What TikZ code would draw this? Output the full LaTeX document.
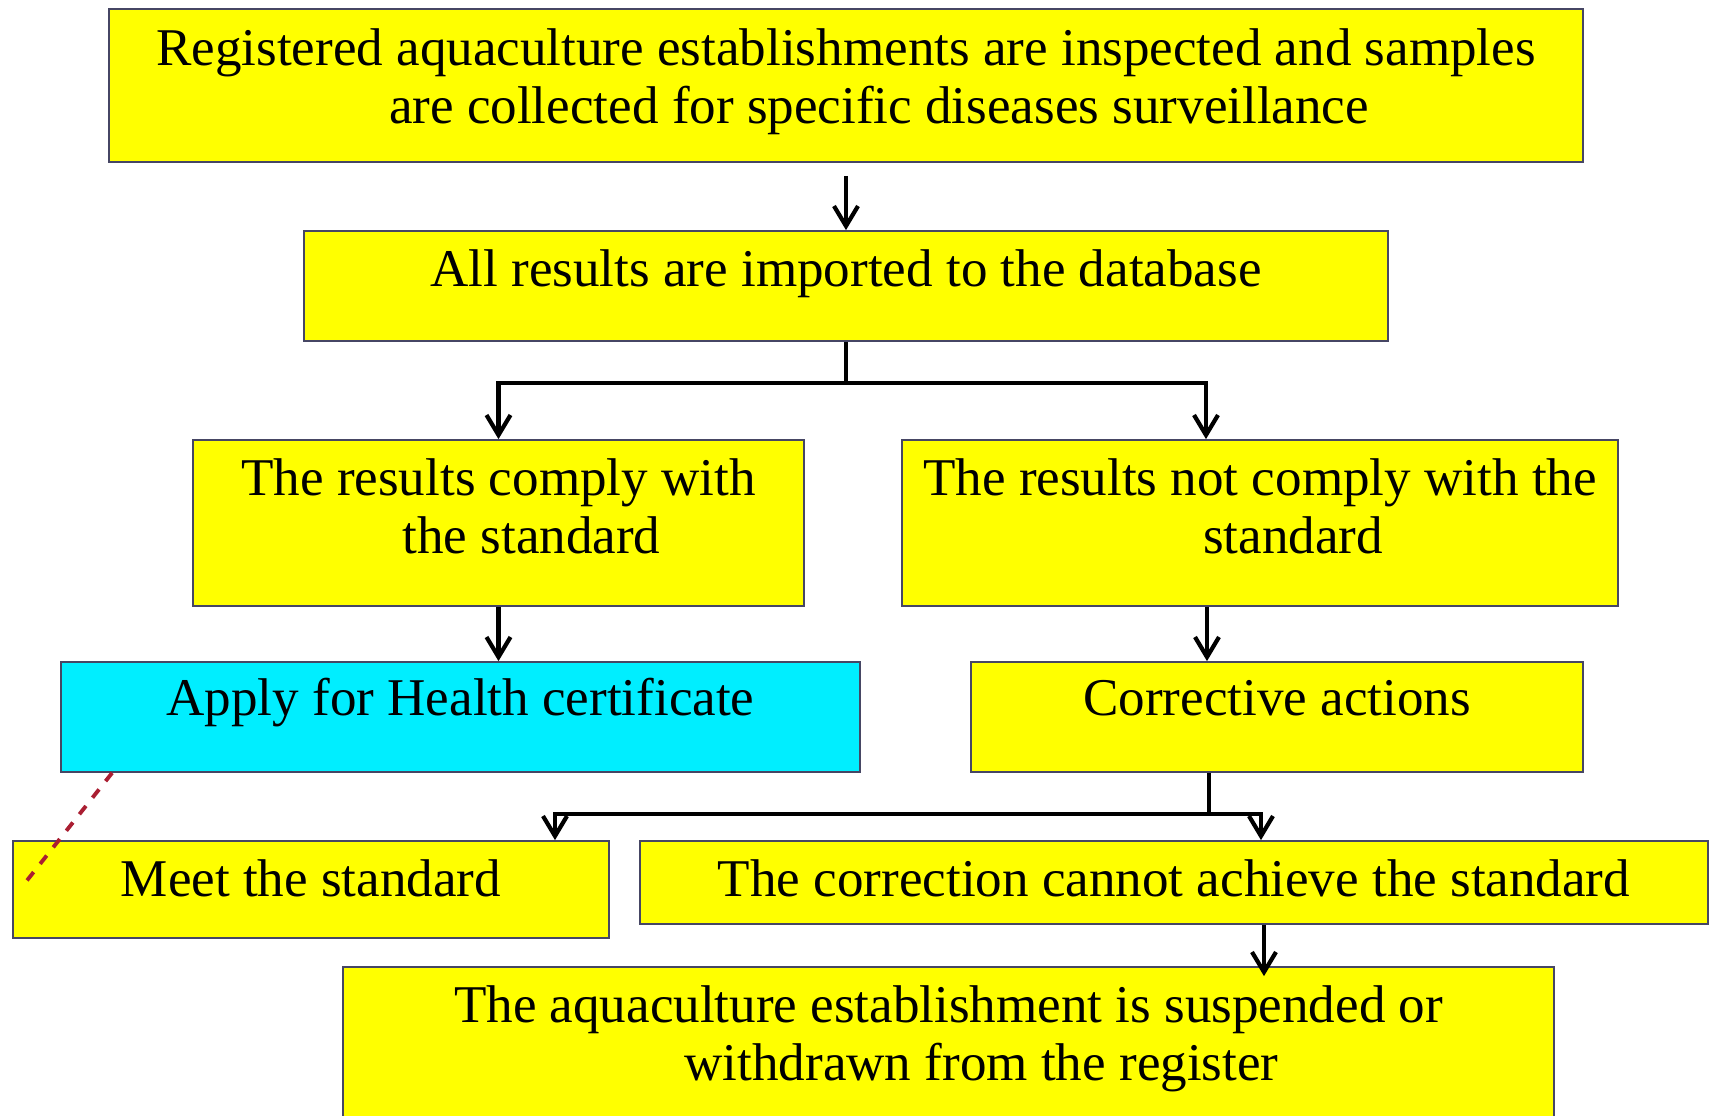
\documentclass[tikz,border=0pt]{standalone}
\usepackage{fontspec}
\setmainfont{Liberation Serif}
\usetikzlibrary{arrows.meta, positioning}
\definecolor{boxyellow}{RGB}{255,255,0}
\definecolor{boxcyan}{RGB}{0,238,255}
\definecolor{boxline}{RGB}{70,70,100}
\definecolor{dashred}{RGB}{170,30,50}

\begin{document}
\begin{tikzpicture}[x=0.1mm, y=-0.1mm,
        box/.style={draw=boxline, line width=0.5pt, fill=boxyellow, inner sep=0pt},
        txt/.style={anchor=base, align=center, inner sep=0pt, font=\fontsize{15.1}{16.5}\selectfont},
        arr/.style={line width=1.2pt, -{Straight Barb[length=2mm, width=2.4mm]}},
        link/.style={line width=1.2pt}]
            \clip (0,0) rectangle (1715,1116);
            \fill[white] (0,0) rectangle (1715,1116);

            % boxes
            \node[box, minimum width=147.4mm, minimum height=15.3mm] (reg) at (846, 85.5) {};
            \node[box, minimum width=108.4mm, minimum height=11mm] (db) at (846, 286) {};
            \node[box, minimum width=61.1mm, minimum height=16.6mm] (ok) at (498.5, 523) {};
            \node[box, minimum width=71.6mm, minimum height=16.6mm] (nok) at (1260, 523) {};
            \node[box, fill=boxcyan, minimum width=79.9mm, minimum height=11mm] (cert) at (460.5, 717) {};
            \node[box, minimum width=61.2mm, minimum height=11mm] (corr) at (1277, 717) {};
            \node[box, minimum width=59.6mm, minimum height=9.7mm] (meet) at (311, 889.5) {};
            \node[box, minimum width=106.8mm, minimum height=8.3mm] (fail) at (1174, 882.5) {};
            \node[box, minimum width=121.1mm, minimum height=16.3mm] (susp) at (948.5, 1048.5) {};

            % texts (two-line nodes sit on their last line)
            \node[txt] (regtxt) at ([yshift=-11.5mm]reg.north) {Registered aquaculture establishments are inspected and samples\\\hspace*{6.6mm}are collected for specific diseases surveillance};
            \node[txt] (dbtxt) at ([yshift=-5.6mm]db.north) {All results are imported to the database};
            \node[txt] (oktxt) at ([yshift=-11.4mm]ok.north) {The results comply with\\\hspace*{6.6mm}the standard};
            \node[txt] (noktxt) at ([yshift=-11.4mm]nok.north) {The results not comply with the\\\hspace*{6.6mm}standard};
            \node[txt] (certtxt) at ([yshift=-5.4mm]cert.north) {Apply for Health certificate};
            \node[txt] (corrtxt) at ([yshift=-5.4mm]corr.north) {Corrective actions};
            \node[txt] (meettxt) at ([yshift=-5.6mm]meet.north) {Meet the standard};
            \node[txt] (failtxt) at ([yshift=-5.6mm]fail.north) {The correction cannot achieve the standard};
            \node[txt] (susptxt) at ([yshift=-11.4mm]susp.north) {The aquaculture establishment is suspended or\\\hspace*{6.6mm}withdrawn from the register};

            % connectors
            \coordinate (split1) at (846, 383);
            \coordinate (split2) at (1209, 814);
            \coordinate (dashend) at (25, 883);
            \draw[arr, shorten <=1.3mm] (reg) -- (db);
            \draw[link] (db) -- (split1);
            \draw[arr] (split1) -| (ok.north);
            \draw[arr] (split1) -| ([xshift=-5.4mm]nok.north);
            \draw[arr] (ok) -- (ok |- cert.north);
            \draw[arr] ([xshift=-5.3mm]nok.south) -- ([xshift=-5.3mm]nok.south |- corr.north);
            \draw[link] (corr.south -| split2) -- (split2);
            \draw[arr] (split2) -| ([xshift=24.4mm]meet.north);
            \draw[arr] (split2) -| ([xshift=8.7mm]fail.north);
            \draw[arr, shorten >=-1mm] ([xshift=9mm]fail.south) -- ([xshift=9mm]fail.south |- susp.north);
            \draw[dashred, dashed, line width=1.1pt] ([xshift=5.2mm]cert.south west) -- (dashend);
        \end{tikzpicture}
\end{document}
